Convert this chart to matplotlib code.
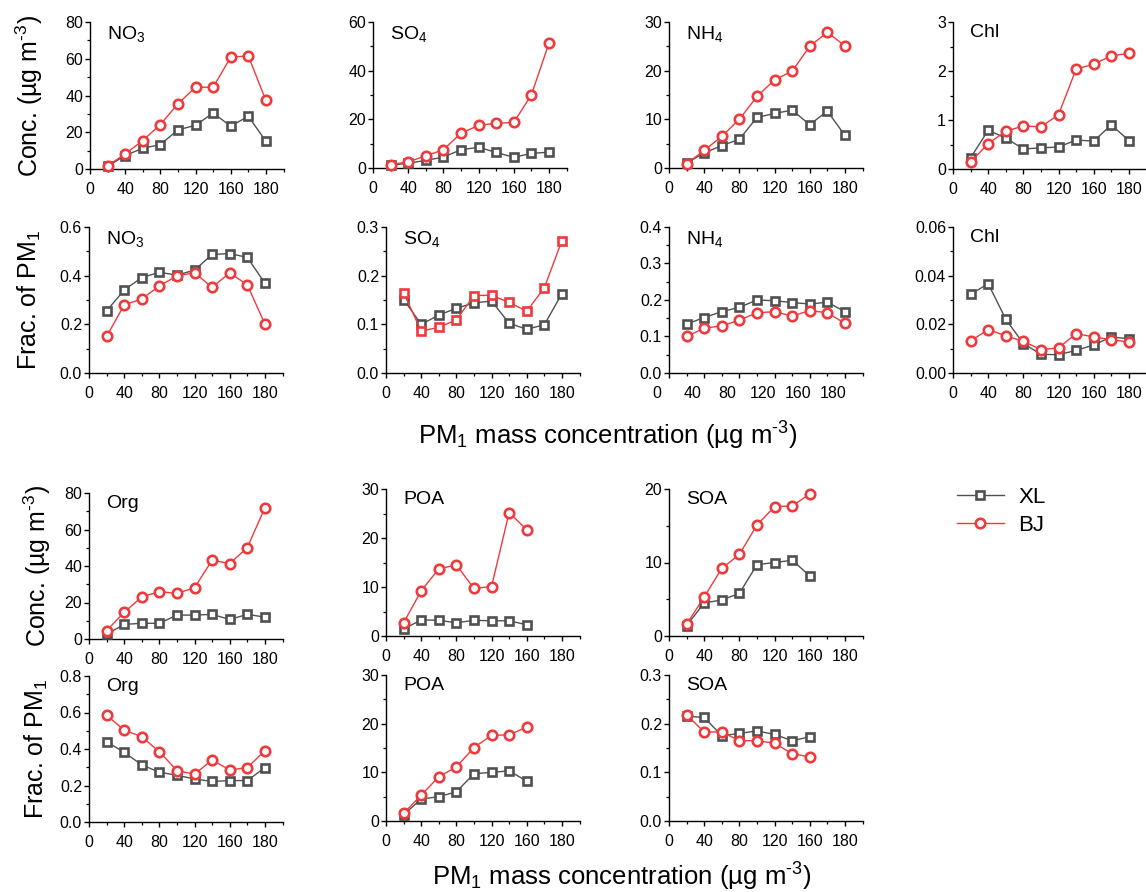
import matplotlib
import matplotlib.pyplot as plt
from matplotlib.lines import Line2D
from matplotlib.ticker import MultipleLocator, FormatStrFormatter
from matplotlib.transforms import ScaledTranslation

matplotlib.use("Agg")
plt.rcParams["font.family"] = ["Liberation Sans", "DejaVu Sans"]
plt.rcParams["mathtext.fontset"] = "custom"
plt.rcParams["mathtext.rm"] = "Liberation Sans"
plt.rcParams["mathtext.it"] = "Liberation Sans:italic"
plt.rcParams["mathtext.default"] = "regular"

# PM1 bins; the last bin sits at 200 but is labelled 180 on the axis
bins = [20, 40, 60, 80, 100, 120, 140, 160, 180, 200]
tick_pos = [0, 40, 80, 120, 160, 200]
tick_labels = ["0", "40", "80", "120", "160", "180"]

# concentrations (ug m-3)
no3_xl = [1.5, 7.3, 11.3, 13.3, 21.3, 23.8, 30.5, 23.3, 28.7, 15.1]
no3_bj = [1.8, 8.2, 15.5, 24.2, 35.5, 44.5, 44.5, 60.9, 61.5, 37.3]
so4_xl = [1.1, 2.0, 3.1, 4.5, 7.5, 8.5, 6.4, 4.4, 6.0, 6.5]
so4_bj = [1.4, 2.5, 5.0, 7.5, 14.3, 17.5, 18.4, 18.7, 30.0, 51.2]
nh4_xl = [1.0, 3.1, 4.6, 5.9, 10.4, 11.2, 11.9, 8.9, 11.7, 6.7]
nh4_bj = [0.9, 3.6, 6.5, 10.0, 14.7, 18.1, 19.9, 25.0, 27.9, 25.1]
chl_xl = [0.23, 0.79, 0.63, 0.41, 0.43, 0.45, 0.59, 0.57, 0.90, 0.58]
chl_bj = [0.14, 0.52, 0.77, 0.88, 0.86, 1.11, 2.04, 2.14, 2.31, 2.36]
org_xl = [2.6, 8.0, 8.6, 8.6, 13.1, 13.1, 13.5, 10.7, 13.5, 12.0]
org_bj = [4.6, 14.6, 23.1, 25.9, 25.0, 28.1, 43.2, 41.3, 50.1, 71.9]
poa_xl = [1.4, 3.3, 3.2, 2.7, 3.2, 3.1, 3.1, 2.3]
poa_bj = [2.7, 9.2, 13.7, 14.5, 9.7, 10.1, 25.2, 21.7]
soa_xl = [1.4, 4.5, 4.9, 5.8, 9.7, 10.0, 10.3, 8.2]
soa_bj = [1.6, 5.3, 9.2, 11.1, 15.1, 17.6, 17.7, 19.3]

# mass fractions of PM1
no3_f_xl = [0.255, 0.341, 0.392, 0.414, 0.402, 0.423, 0.487, 0.491, 0.475, 0.369]
no3_f_bj = [0.150, 0.280, 0.304, 0.358, 0.399, 0.412, 0.352, 0.412, 0.362, 0.201]
so4_f_xl = [0.151, 0.100, 0.119, 0.133, 0.144, 0.148, 0.102, 0.090, 0.099, 0.163]
so4_f_bj = [0.165, 0.086, 0.094, 0.109, 0.159, 0.160, 0.145, 0.127, 0.175, 0.272]
nh4_f_xl = [0.134, 0.152, 0.168, 0.180, 0.200, 0.198, 0.193, 0.189, 0.194, 0.168]
nh4_f_bj = [0.100, 0.123, 0.129, 0.145, 0.165, 0.168, 0.156, 0.171, 0.165, 0.136]
chl_f_xl = [0.0323, 0.0367, 0.0221, 0.0121, 0.0077, 0.0075, 0.0093, 0.0115, 0.0148, 0.0141]
chl_f_bj = [0.0132, 0.0178, 0.0153, 0.0130, 0.0096, 0.0103, 0.0162, 0.0148, 0.0137, 0.0127]
org_f_xl = [0.440, 0.382, 0.313, 0.273, 0.256, 0.236, 0.222, 0.227, 0.227, 0.298]
org_f_bj = [0.585, 0.504, 0.467, 0.385, 0.282, 0.262, 0.340, 0.285, 0.298, 0.391]
poa_f_xl = [1.3, 4.5, 5.0, 6.0, 9.7, 10.0, 10.3, 8.2]
poa_f_bj = [1.6, 5.3, 9.1, 11.1, 15.1, 17.6, 17.7, 19.3]
soa_f_xl = [0.215, 0.213, 0.175, 0.180, 0.185, 0.178, 0.165, 0.173]
soa_f_bj = [0.218, 0.183, 0.183, 0.165, 0.165, 0.160, 0.138, 0.132]

# label, XL, BJ, y max, y step, decimals, BJ marker
panels = [
    ("NO$_3$", no3_xl, no3_bj, 80, 20, 0, "o"),
    ("SO$_4$", so4_xl, so4_bj, 60, 20, 0, "o"),
    ("NH$_4$", nh4_xl, nh4_bj, 30, 10, 0, "o"),
    ("Chl", chl_xl, chl_bj, 3, 1, 0, "o"),
    ("NO$_3$", no3_f_xl, no3_f_bj, 0.6, 0.2, 1, "o"),
    ("SO$_4$", so4_f_xl, so4_f_bj, 0.3, 0.1, 1, "s"),
    ("NH$_4$", nh4_f_xl, nh4_f_bj, 0.4, 0.1, 1, "o"),
    ("Chl", chl_f_xl, chl_f_bj, 0.06, 0.02, 2, "o"),
    ("Org", org_xl, org_bj, 80, 20, 0, "o"),
    ("POA", poa_xl, poa_bj, 30, 10, 0, "o"),
    ("SOA", soa_xl, soa_bj, 20, 10, 0, "o"),
    ("Org", org_f_xl, org_f_bj, 0.8, 0.2, 1, "o"),
    ("POA", poa_f_xl, poa_f_bj, 30, 10, 0, "o"),
    ("SOA", soa_f_xl, soa_f_bj, 0.3, 0.1, 1, "o"),
]

# axes boxes in pixels: left, top, bottom
boxes = [
    (90, 22, 169), (373, 22, 168), (669, 22, 168), (953, 22, 169),
    (89, 227, 373), (386, 227, 373), (669, 227, 373), (953, 227, 373),
    (89, 493, 639), (386, 489, 636), (669, 489, 636),
    (89, 676, 822), (386, 675, 821), (669, 675, 821),
]

W, H = 1146, 892
AX_W = 193.5
GRAY = "#505050"
RED = "#ef3a3d"

fig = plt.figure(figsize=(W / 100, H / 100), dpi=100)

for i, ((name, xl, bj, ymax, ystep, dec, bj_marker), (left, top, bottom)) in enumerate(zip(panels, boxes)):
    ax = fig.add_axes([left / W, 1 - bottom / H, AX_W / W, (bottom - top) / H])
    x = bins[:len(xl)]
    ax.plot(x, xl, color=GRAY, lw=1.0, marker="s", ms=5.2, mew=1.9,
            mfc="white", mec=GRAY, zorder=3, clip_on=False)
    ax.plot(x, bj, color=RED, lw=1.0, marker=bj_marker,
            ms=6.8 if bj_marker == "o" else 5.2, mew=1.9,
            mfc="white", mec=RED, zorder=4, clip_on=False)

    ax.set_xlim(0, 220)
    ax.set_ylim(0, ymax)
    ax.set_xticks(tick_pos, tick_labels)
    ax.xaxis.set_minor_locator(MultipleLocator(20))
    ax.yaxis.set_major_locator(MultipleLocator(ystep))
    ax.yaxis.set_minor_locator(MultipleLocator(ystep / 2))
    ax.yaxis.set_major_formatter(FormatStrFormatter(f"%.{dec}f"))

    for side in ("top", "right"):
        ax.spines[side].set_visible(False)
    for side in ("left", "bottom"):
        ax.spines[side].set_linewidth(1.0)
    ax.tick_params(which="major", direction="out", length=3.5, width=1.0,
                   labelsize=11.5)
    ax.tick_params(which="minor", direction="out", length=2.2, width=0.9)
    ax.tick_params(axis="x", which="major", pad=6)
    ax.tick_params(axis="y", which="major", pad=1.5)

    # NH4 fraction panel: axis numbers sit a little to the left
    if i == 6:
        shift = ScaledTranslation(-12 / 100, 0, fig.dpi_scale_trans)
        for lbl in ax.get_xticklabels():
            lbl.set_transform(lbl.get_transform() + shift)

    ax.annotate(name, xy=(0, 1), xycoords="axes fraction", xytext=(12.5, -1.5),
                textcoords="offset points", ha="left", va="top", fontsize=14)

# shared axis titles
ylab_conc = r"Conc. (µg m$^{\text{-3}}$)"
ylab_frac = "Frac. of PM$_1$"
fig.text(29 / W, 1 - 96 / H, ylab_conc, rotation=90, ha="center", va="center", fontsize=18)
fig.text(29 / W, 1 - 300 / H, ylab_frac, rotation=90, ha="center", va="center", fontsize=18)
fig.text(37 / W, 1 - 566 / H, ylab_conc, rotation=90, ha="center", va="center", fontsize=18)
fig.text(36 / W, 1 - 749 / H, ylab_frac, rotation=90, ha="center", va="center", fontsize=18)

xlab = r"PM$_1$ mass concentration (µg m$^{\text{-3}}$)"
fig.text(608 / W, 1 - 436 / H, xlab, ha="center", va="center", fontsize=18.5)
fig.text(622 / W, 1 - 877 / H, xlab, ha="center", va="center", fontsize=18.5)

handles = [
    Line2D([], [], color=GRAY, lw=1.0, marker="s", ms=5.2, mew=1.9, mfc="white", mec=GRAY),
    Line2D([], [], color=RED, lw=1.0, marker="o", ms=6.8, mew=1.9, mfc="white", mec=RED),
]
fig.legend(handles, ["XL", "BJ"], loc="upper left",
           bbox_to_anchor=(957 / W, 1 - 487 / H), frameon=False,
           borderpad=0, borderaxespad=0,
           fontsize=16, handlelength=2.1, handletextpad=0.65, labelspacing=0.3)

fig.savefig("out.png", dpi=100)
